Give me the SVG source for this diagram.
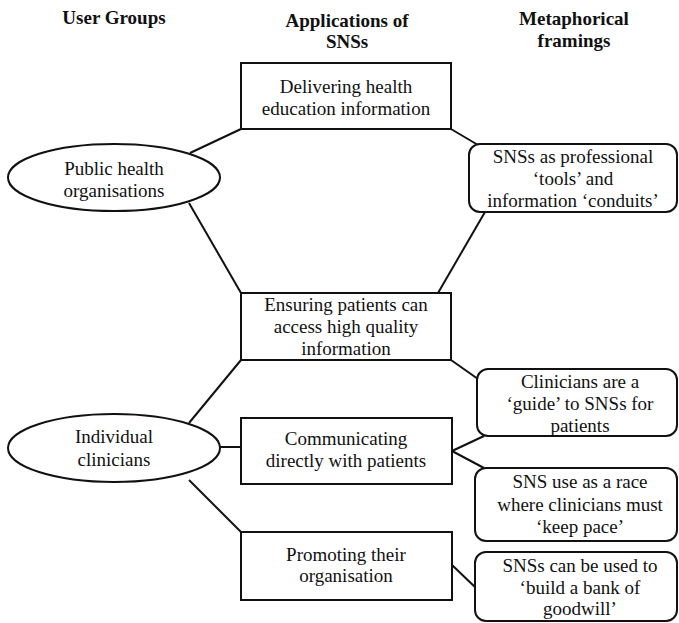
<svg xmlns="http://www.w3.org/2000/svg" width="679" height="623" viewBox="0 0 679 623">
<style>
text{font-family:"Liberation Serif","Times New Roman",serif;font-size:19px;fill:#111;text-anchor:middle}
.h{font-weight:bold}
.n{fill:#fff;stroke:#111;stroke-width:2}
.c line{stroke:#111;stroke-width:2}
</style>
<rect width="679" height="623" fill="#fff"/>
<g id="headers">
<text class="h" x="114" y="24">User Groups</text>
<text class="h" x="347" y="27">Applications of</text>
<text class="h" x="347" y="48">SNSs</text>
<text class="h" x="574" y="25">Metaphorical</text>
<text class="h" x="574" y="47">framings</text>
</g>
<g class="c" id="connectors">
<line x1="190" y1="153" x2="241" y2="129"/>
<line x1="189" y1="203" x2="241" y2="293"/>
<line x1="451" y1="129" x2="478" y2="145"/>
<line x1="438" y1="293" x2="485" y2="212"/>
<line x1="189" y1="423" x2="241" y2="360"/>
<line x1="220" y1="447" x2="241" y2="447"/>
<line x1="189" y1="480" x2="241" y2="532"/>
<line x1="451" y1="360" x2="478" y2="379"/>
<line x1="452" y1="451" x2="484" y2="436"/>
<line x1="452" y1="451" x2="484" y2="468"/>
<line x1="452" y1="565" x2="476" y2="588"/>
</g>
<g id="public-health">
<ellipse class="n" cx="114" cy="177.5" rx="106" ry="33.5"/>
<text x="114" y="175">Public health</text>
<text x="114" y="197">organisations</text>
</g>
<g id="individual-clinicians">
<ellipse class="n" cx="114" cy="448" rx="106" ry="34"/>
<text x="114" y="443">Individual</text>
<text x="114" y="466">clinicians</text>
</g>
<g id="delivering">
<rect class="n" x="241" y="63" width="210" height="66"/>
<text x="346" y="93">Delivering health</text>
<text x="346" y="115">education information</text>
</g>
<g id="ensuring">
<rect class="n" x="241" y="293" width="210" height="67"/>
<text x="346" y="311">Ensuring patients can</text>
<text x="346" y="333">access high quality</text>
<text x="346" y="355">information</text>
</g>
<g id="communicating">
<rect class="n" x="241" y="418" width="211" height="66"/>
<text x="346" y="445">Communicating</text>
<text x="346" y="467">directly with patients</text>
</g>
<g id="promoting">
<rect class="n" x="241" y="532" width="211" height="68"/>
<text x="346" y="561">Promoting their</text>
<text x="346" y="582">organisation</text>
</g>
<g id="tools-conduits">
<rect class="n" x="469" y="144" width="208" height="68" rx="11"/>
<text x="573" y="163">SNSs as professional</text>
<text x="573" y="185">‘tools’ and</text>
<text x="573" y="207">information ‘conduits’</text>
</g>
<g id="guide">
<rect class="n" x="477" y="369" width="200" height="67" rx="11"/>
<text x="580" y="388">Clinicians are a</text>
<text x="580" y="410">‘guide’ to SNSs for</text>
<text x="580" y="432">patients</text>
</g>
<g id="race">
<rect class="n" x="475" y="468" width="202" height="73" rx="11"/>
<text x="580" y="488">SNS use as a race</text>
<text x="580" y="511">where clinicians must</text>
<text x="580" y="533">‘keep pace’</text>
</g>
<g id="goodwill">
<rect class="n" x="475" y="552" width="202" height="69" rx="11"/>
<text x="580" y="572">SNSs can be used to</text>
<text x="580" y="594">‘build a bank of</text>
<text x="580" y="615">goodwill’</text>
</g>
</svg>
